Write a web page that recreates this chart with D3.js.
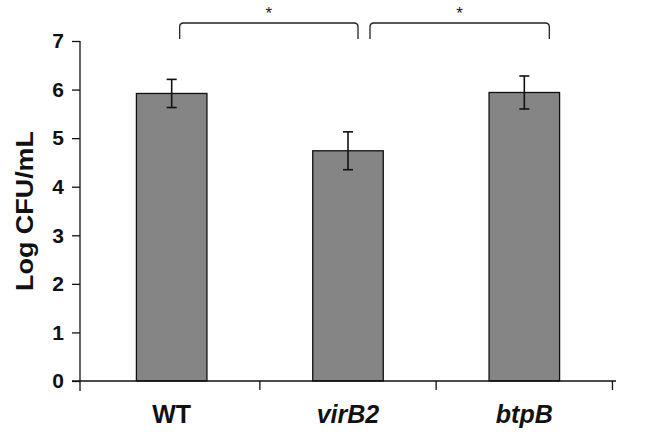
<!DOCTYPE html>
<html>
<head>
<meta charset="utf-8">
<script src="https://cdn.jsdelivr.net/npm/d3@7"></script>
<style>
  body { margin: 0; background: #fff; }
  svg { font-family: "Liberation Sans", Arial, sans-serif; }
</style>
</head>
<body>
<script>
'use strict';

var categories = ['WT', 'virB2', 'btpB'];
var italicCats = ['virB2', 'btpB'];
var means = [5.92, 4.74, 5.94];
var errors = [0.29, 0.39, 0.34];
var yTicks = [0, 1, 2, 3, 4, 5, 6, 7];
var pairs = [['WT', 'virB2'], ['virB2', 'btpB']];
var pairLabels = ['*', '*'];

var width = 662, height = 435;
var mLeft = 80, mRight = 616, mTop = 41, mBottom = 381;

var svg = d3.select('body').append('svg')
    .attr('width', width)
    .attr('height', height);

var x = d3.scaleBand()
    .domain(categories)
    .range([mLeft, mRight])
    .paddingInner(0.6)
    .paddingOuter(0.32);

var y = d3.scaleLinear()
    .domain([0, 7])
    .range([mBottom, mTop]);

var cx = function(d) { return x(d) + x.bandwidth() / 2; };

// bars
svg.selectAll('rect.bar')
    .data(categories)
  .enter().append('rect')
    .attr('class', 'bar')
    .attr('x', function(d) { return x(d); })
    .attr('y', function(d, i) { return y(means[i]); })
    .attr('width', x.bandwidth())
    .attr('height', function(d, i) { return y(0) - y(means[i]); })
    .attr('fill', '#858585')
    .attr('stroke', '#111')
    .attr('stroke-width', 1.3);

// error bars
var err = svg.selectAll('g.err')
    .data(categories)
  .enter().append('g')
    .attr('class', 'err')
    .attr('stroke', '#111')
    .attr('stroke-width', 1.6);

err.append('line')
    .attr('x1', cx)
    .attr('x2', cx)
    .attr('y1', function(d, i) { return y(means[i] + errors[i]); })
    .attr('y2', function(d, i) { return y(means[i] - errors[i]); });

[1, -1].forEach(function(s) {
  err.append('line')
      .attr('x1', function(d) { return cx(d) - 5; })
      .attr('x2', function(d) { return cx(d) + 5; })
      .attr('y1', function(d, i) { return y(means[i] + s * errors[i]); })
      .attr('y2', function(d, i) { return y(means[i] + s * errors[i]); });
});

// y axis
var yAxis = svg.append('g')
    .attr('transform', 'translate(' + mLeft + ',0)')
    .call(d3.axisLeft(y).tickValues(yTicks).tickSize(8).tickPadding(8).tickFormat(d3.format('d')));
yAxis.select('.domain').attr('d', 'M0,' + mTop + 'V' + (mBottom + 10));
yAxis.selectAll('line, path').attr('stroke', '#111').attr('stroke-width', 1.3);
yAxis.selectAll('text')
    .attr('font-size', 21)
    .attr('font-weight', 'bold')
    .attr('font-family', '"Liberation Sans", Arial, sans-serif')
    .attr('fill', '#111');

// x axis
var xAxis = svg.append('g')
    .attr('transform', 'translate(0,' + mBottom + ')');
xAxis.append('line')
    .attr('x1', mLeft - 8).attr('x2', mRight)
    .attr('stroke', '#111').attr('stroke-width', 1.3);
var step = x.step();
xAxis.selectAll('line.tick')
    .data(categories)
  .enter().append('line')
    .attr('class', 'tick')
    .attr('x1', function(d) { return cx(d) + step / 2; })
    .attr('x2', function(d) { return cx(d) + step / 2; })
    .attr('y1', 0).attr('y2', 9)
    .attr('stroke', '#111').attr('stroke-width', 1.3);
xAxis.selectAll('text')
    .data(categories)
  .enter().append('text')
    .attr('x', cx)
    .attr('y', 42)
    .attr('text-anchor', 'middle')
    .attr('font-size', 25)
    .attr('font-weight', 'bold')
    .attr('font-style', function(d) { return italicCats.indexOf(d) >= 0 ? 'italic' : 'normal'; })
    .attr('fill', '#111')
    .text(function(d) { return d; });

// y label
svg.append('text')
    .attr('transform', 'translate(33,' + ((mTop + mBottom) / 2) + ') rotate(-90)')
    .attr('text-anchor', 'middle')
    .attr('font-size', 24)
    .attr('font-weight', 'bold')
    .attr('fill', '#111')
    .attr('textLength', 160)
    .attr('lengthAdjust', 'spacingAndGlyphs')
    .text('Log CFU/mL');

// significance brackets
var bTop = 23, bLeg = 16, r = 4;
var bOffset = [[8, 10], [22, 25]];
pairs.forEach(function(p, i) {
  var x1 = cx(p[0]) + bOffset[i][0];
  var x2 = cx(p[1]) + bOffset[i][1];
  svg.append('path')
      .attr('d', 'M' + x1 + ',' + (bTop + bLeg) + 'V' + (bTop + r) +
                 'Q' + x1 + ',' + bTop + ' ' + (x1 + r) + ',' + bTop +
                 'H' + (x2 - r) +
                 'Q' + x2 + ',' + bTop + ' ' + x2 + ',' + (bTop + r) +
                 'V' + (bTop + bLeg))
      .attr('fill', 'none')
      .attr('stroke', '#222')
      .attr('stroke-width', 1.3);
  svg.append('text')
      .attr('x', (x1 + x2) / 2)
      .attr('y', 19)
      .attr('text-anchor', 'middle')
      .attr('font-size', 17)
      .attr('fill', '#222')
      .text(pairLabels[i]);
});
</script>
</body>
</html>
